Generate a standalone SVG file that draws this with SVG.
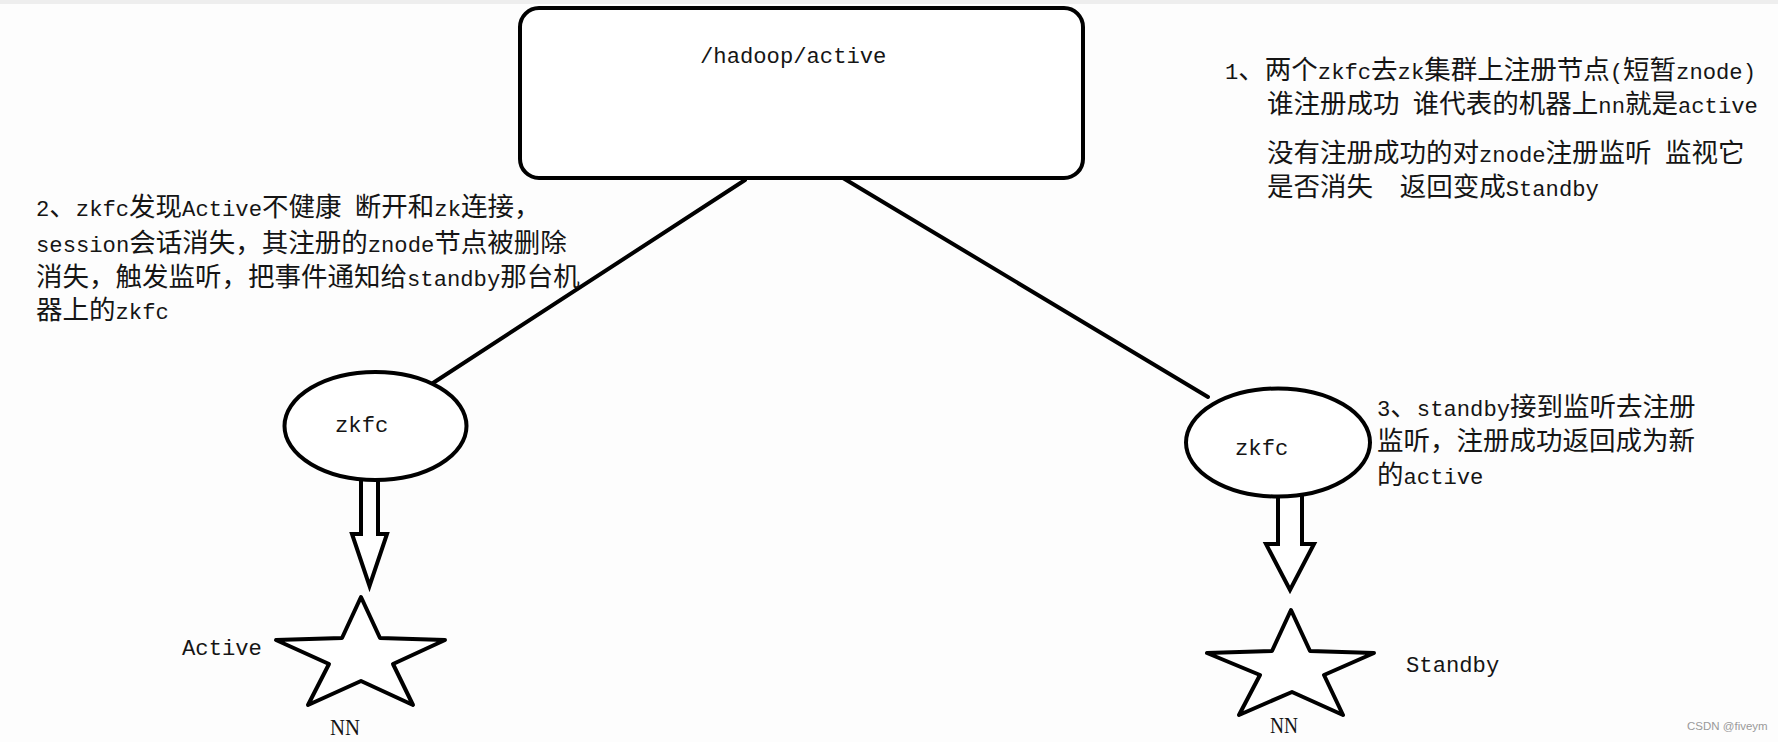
<svg xmlns="http://www.w3.org/2000/svg" width="1778" height="742" viewBox="0 0 1778 742">
<style>
.bg{fill:#fdfdfd}
.shape{fill:#fff;stroke:#000;stroke-width:4;stroke-linejoin:round}
.conn{fill:none;stroke:#000;stroke-width:4;stroke-linecap:round}
.barrow{fill:#fff;stroke:#000;stroke-width:4;stroke-linejoin:miter}
.c{font-family:"Noto Sans CJK SC","Noto Sans",sans-serif;font-size:26.5px;fill:#151515}
.l{font-family:"Liberation Mono","DejaVu Sans Mono",monospace;font-size:22.2px}
.nn{font-family:"Liberation Serif",serif;font-size:24px;fill:#151515}
.wm{font-family:"Liberation Sans",sans-serif;font-size:11.5px;fill:#9a9a9a}
</style>
<rect class="bg" x="0" y="0" width="1778" height="742"/>
<rect x="0" y="0" width="1778" height="4" fill="#eeeeee"/>

<g id="connectors">
  <line class="conn" x1="745" y1="180" x2="433" y2="383"/>
  <line class="conn" x1="843" y1="178" x2="1208" y2="397"/>
  <path class="barrow" d="M361,480 V534 H352 L369.5,586 L387,534 H378 V480"/>
  <path class="barrow" d="M1278,496 V544 H1266 L1290,590 L1314,544 H1302 V496"/>
</g>

<g id="zk-node">
  <rect class="shape" x="520" y="8" width="563" height="170" rx="19" ry="19"/>
  <text class="l" x="700" y="63" fill="#151515">/hadoop/active</text>
</g>

<g id="zkfc-left">
  <ellipse class="shape" cx="375.5" cy="426" rx="91" ry="54"/>
  <text class="l" x="335" y="432" fill="#151515">zkfc</text>
</g>

<g id="zkfc-right">
  <ellipse class="shape" cx="1278" cy="442.5" rx="92" ry="54"/>
  <text class="l" x="1235" y="455" fill="#151515">zkfc</text>
</g>

<g id="nn-active">
  <polygon class="shape" points="361,597 380,638 445,640 393,664 413,705 361,681 308,705 329,664 276,640 342,638"/>
  <text class="l" x="182" y="655" fill="#151515">Active</text>
  <text class="nn" x="330" y="735" textLength="30" lengthAdjust="spacingAndGlyphs">NN</text>
</g>

<g id="nn-standby">
  <polygon class="shape" points="1291,610 1310,651 1374,653 1324,675 1343,715 1292,692 1239,715 1260,675 1207,653 1272,651"/>
  <text class="l" x="1406" y="672" fill="#151515">Standby</text>
  <text class="nn" x="1270" y="733" textLength="28" lengthAdjust="spacingAndGlyphs">NN</text>
</g>

<g id="note-1">
  <text class="c" xml:space="preserve" x="1225" y="79"><tspan class="l">1</tspan>、两个<tspan class="l">zkfc</tspan>去<tspan class="l">zk</tspan>集群上注册节点<tspan class="l">(</tspan>短暂<tspan class="l">znode)</tspan></text>
  <text class="c" xml:space="preserve" x="1267" y="113">谁注册成功<tspan class="l"> </tspan>谁代表的机器上<tspan class="l">nn</tspan>就是<tspan class="l">active</tspan></text>
  <text class="c" xml:space="preserve" x="1267" y="162">没有注册成功的对<tspan class="l">znode</tspan>注册监听<tspan class="l"> </tspan>监视它</text>
  <text class="c" xml:space="preserve" x="1267" y="196">是否消失<tspan class="l">  </tspan>返回变成<tspan class="l">Standby</tspan></text>
</g>

<g id="note-2">
  <text class="c" xml:space="preserve" x="36" y="216"><tspan class="l">2</tspan>、<tspan class="l">zkfc</tspan>发现<tspan class="l">Active</tspan>不健康<tspan class="l"> </tspan>断开和<tspan class="l">zk</tspan>连接，</text>
  <text class="c" xml:space="preserve" x="36" y="252"><tspan class="l">session</tspan>会话消失，其注册的<tspan class="l">znode</tspan>节点被删除</text>
  <text class="c" xml:space="preserve" x="36" y="286">消失，触发监听，把事件通知给<tspan class="l">standby</tspan>那台机</text>
  <text class="c" xml:space="preserve" x="36" y="319">器上的<tspan class="l">zkfc</tspan></text>
</g>

<g id="note-3">
  <text class="c" xml:space="preserve" x="1377" y="416"><tspan class="l">3</tspan>、<tspan class="l">standby</tspan>接到监听去注册</text>
  <text class="c" xml:space="preserve" x="1377" y="450">监听，注册成功返回成为新</text>
  <text class="c" xml:space="preserve" x="1377" y="484">的<tspan class="l">active</tspan></text>
</g>

<text class="wm" x="1687" y="730">CSDN @fiveym</text>
</svg>
